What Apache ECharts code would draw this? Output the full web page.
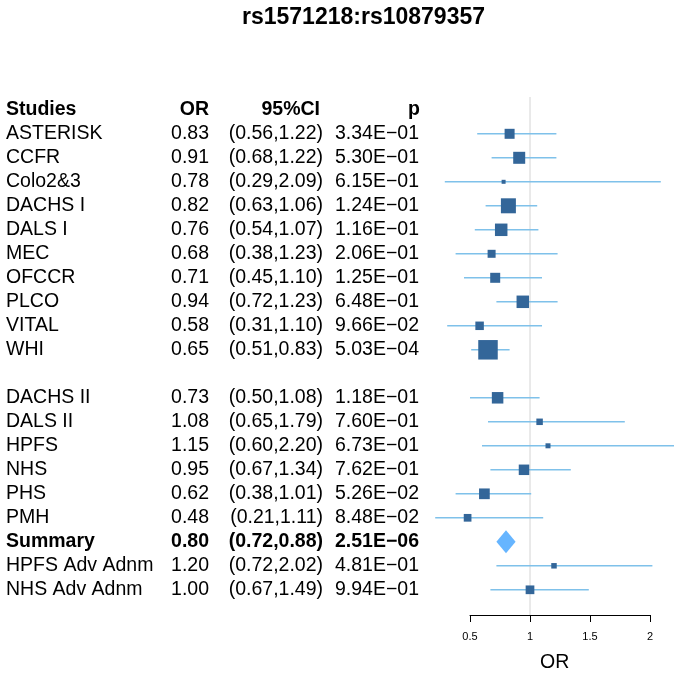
<!DOCTYPE html>
<html>
<head>
<meta charset="utf-8">
<style>html,body{margin:0;padding:0;background:#fff}#chart{width:684px;height:674px}</style>
<script src="https://cdn.jsdelivr.net/npm/echarts@6/dist/echarts.min.js"></script>
</head>
<body>
<div id="chart"></div>
<script>
// ---- data ----
const chartTitle = 'rs1571218:rs10879357';
const headers = ['Studies', 'OR', '95%CI', 'p'];
const studies = ['ASTERISK','CCFR','Colo2&3','DACHS I','DALS I','MEC','OFCCR','PLCO','VITAL','WHI','',
  'DACHS II','DALS II','HPFS','NHS','PHS','PMH','Summary','HPFS Adv Adnm','NHS Adv Adnm'];
const orValues = [0.83,0.91,0.78,0.82,0.76,0.68,0.71,0.94,0.58,0.65,null,
  0.73,1.08,1.15,0.95,0.62,0.48,0.80,1.20,1.00];
const ciLower = [0.56,0.68,0.29,0.63,0.54,0.38,0.45,0.72,0.31,0.51,null,
  0.50,0.65,0.60,0.67,0.38,0.21,0.72,0.72,0.67];
const ciUpper = [1.22,1.22,2.09,1.06,1.07,1.23,1.10,1.23,1.10,0.83,null,
  1.08,1.79,2.20,1.34,1.01,1.11,0.88,2.02,1.49];
const pValues = ['3.34E\u221201','5.30E\u221201','6.15E\u221201','1.24E\u221201','1.16E\u221201','2.06E\u221201','1.25E\u221201','6.48E\u221201','9.66E\u221202','5.03E\u221204','',
  '1.18E\u221201','7.60E\u221201','6.73E\u221201','7.62E\u221201','5.26E\u221202','8.48E\u221202','2.51E\u221206','4.81E\u221201','9.94E\u221201'];
const weights = [10,12,4,15,12.5,8,10,12.5,8.5,19.5,null,
  11.5,6.5,5,10.5,10.7,7.7,null,5.5,8.7];
const summaryName = 'Summary';
const refValue = 1;
const axisTicks = [0.5, 1, 1.5, 2];
const axisName = 'OR';

// ---- build ----
const FONT = '"Liberation Sans", Arial, sans-serif';
const FS = 19.5;
const boxData = [];
const diamondData = [];
const textData = [[-1]];
studies.forEach((s, i) => {
  if (s === '') return;
  textData.push([i]);
  if (s === summaryName) diamondData.push([i, orValues[i], ciLower[i], ciUpper[i]]);
  else boxData.push([i, orValues[i], ciLower[i], ciUpper[i], weights[i]]);
});

const colX = {name: 6, or: 209, ci: 323, p: 419};

const option = {
  animation: false,
  backgroundColor: '#fff',
  title: {
    text: chartTitle, left: 242, top: 6, padding: 0,
    textStyle: {fontFamily: FONT, fontSize: 23, fontWeight: 'bold', color: '#000'}
  },
  grid: [
    {left: 434, width: 240, top: 97.8, height: 516},
    {left: 470, width: 180, top: 97, height: 518}
  ],
  xAxis: [
    {gridIndex: 0, type: 'value', min: 0.2, max: 2.2, show: false},
    {gridIndex: 1, type: 'value', min: axisTicks[0], max: axisTicks[axisTicks.length-1], interval: 0.5,
     axisLine: {show: true, lineStyle: {color: '#000', width: 1}},
     axisTick: {show: true, length: 7, lineStyle: {color: '#000'}},
     axisLabel: {fontFamily: FONT, fontSize: 11, color: '#000', margin: 16,
       formatter: v => String(v)},
     splitLine: {show: false}}
  ],
  yAxis: [
    {gridIndex: 0, type: 'value', min: -1.5, max: 20, inverse: true, show: false},
    {gridIndex: 1, type: 'value', min: 0, max: 1, show: false}
  ],
  graphic: [{
    type: 'text', left: 555 - 15, top: 662 - 9,
    style: {text: axisName, font: '19.5px ' + FONT, fill: '#000'}
  }],
  series: [
    {
      type: 'custom', xAxisIndex: 1, yAxisIndex: 1, z: 1,
      data: [[refValue]],
      encode: {x: 0},
      renderItem: (params, api) => {
        const a = api.coord([api.value(0), 0]);
        const b = api.coord([api.value(0), 1]);
        return {type: 'line', shape: {x1: a[0], y1: a[1], x2: b[0], y2: b[1]},
                style: {stroke: '#d4d4d4', lineWidth: 1}};
      }
    },
    {
      type: 'custom', xAxisIndex: 0, yAxisIndex: 0, z: 3,
      data: boxData,
      encode: {x: [1, 2, 3], y: 0},
      renderItem: (params, api) => {
        const row = api.value(0);
        const pO = api.coord([api.value(1), row]);
        const pL = api.coord([api.value(2), row]);
        const pH = api.coord([api.value(3), row]);
        const s = api.value(4);
        return {type: 'group', children: [
          {type: 'line', shape: {x1: pL[0], y1: pL[1], x2: pH[0], y2: pH[1]},
           style: {stroke: '#7fc1ea', lineWidth: 1.5}},
          {type: 'rect', shape: {x: pO[0] - s/2, y: pO[1] - s/2, width: s, height: s},
           style: {fill: '#336699'}}
        ]};
      }
    },
    {
      type: 'custom', xAxisIndex: 0, yAxisIndex: 0, z: 3,
      data: diamondData,
      encode: {x: [1, 2, 3], y: 0},
      renderItem: (params, api) => {
        const row = api.value(0);
        const pT = api.coord([api.value(1), row - 0.48]);
        const pB = api.coord([api.value(1), row + 0.48]);
        const pL = api.coord([api.value(2), row]);
        const pR = api.coord([api.value(3), row]);
        return {type: 'polygon', shape: {points: [pL, pT, pR, pB]},
                style: {fill: '#66b5ff'}};
      }
    },
    {
      type: 'custom', xAxisIndex: 0, yAxisIndex: 0, z: 4,
      data: textData,
      encode: {x: [], y: 0},
      renderItem: (params, api) => {
        const row = api.value(0);
        const y = api.coord([1, row])[1];
        let t;
        let bold = false;
        if (row === -1) {
          t = headers; bold = true;
        } else {
          t = [studies[row], orValues[row].toFixed(2),
               '(' + ciLower[row].toFixed(2) + ',' + ciUpper[row].toFixed(2) + ')', pValues[row]];
          bold = studies[row] === summaryName;
        }
        const font = (bold ? 'bold ' : '') + FS + 'px ' + FONT;
        const mk = (x, txt, align) => ({type: 'text', x: x, y: y,
          style: {text: txt, font: font, fill: '#000', textAlign: align, textVerticalAlign: 'middle'}});
        return {type: 'group', children: [
          mk(colX.name, t[0], 'left'),
          mk(colX.or, t[1], 'right'),
          mk(row === -1 ? colX.ci - 3 : colX.ci, t[2], 'right'),
          mk(row === -1 ? colX.p + 1 : colX.p, t[3], 'right')
        ]};
      }
    }
  ]
};

const chart = echarts.init(document.getElementById('chart'), null, {renderer: 'canvas'});
chart.setOption(option);
</script>
</body>
</html>
